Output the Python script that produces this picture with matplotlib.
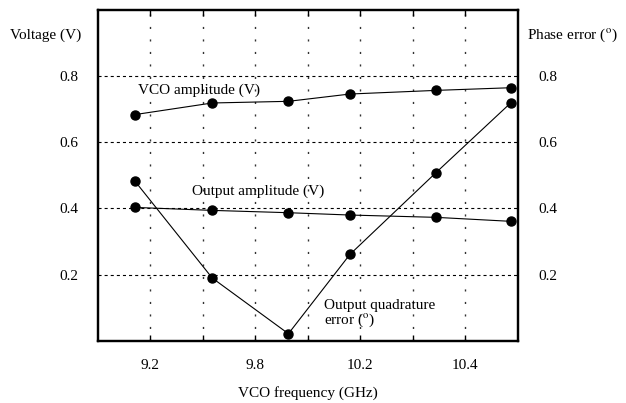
import matplotlib
matplotlib.use("Agg")
import matplotlib.pyplot as plt

plt.rcParams['font.family'] = ['Liberation Serif', 'DejaVu Serif']
plt.rcParams['mathtext.fontset'] = 'stix'
plt.rcParams['lines.scale_dashes'] = False

# x positions are in "grid step" units; labelled ticks are every second step
x_grid = [0, 1, 2, 3, 4, 5, 6]
x_labels = ["9.2", "", "9.8", "", "10.2", "", "10.4"]
x_pts = [-0.29, 1.18, 2.63, 3.80, 5.44, 6.86]

vco_amp = [0.683, 0.718, 0.723, 0.745, 0.756, 0.764]
out_amp = [0.403, 0.394, 0.387, 0.380, 0.373, 0.361]
quad_err = [0.482, 0.190, 0.022, 0.261, 0.508, 0.718]

y_ticks = [0.2, 0.4, 0.6, 0.8]
y_labels = ["0.2", "0.4", "0.6", "0.8"]

fs = 11

fig = plt.figure(figsize=(6.26, 4.03), dpi=100)
ax = fig.add_axes([97.7/626, 1 - 341/403, (518 - 97.7)/626, (341 - 9.5)/403])
ax.set_xlim(-1, 7)
ax.set_ylim(0, 1.0)

for xv in x_grid:
    ax.axvline(xv, color='#333333', lw=1.0, dashes=(1.5, 7.5), zorder=1)
for yv in y_ticks:
    ax.axhline(yv, color='black', lw=0.8, dashes=(2.2, 2.2), zorder=1)

kw = dict(color='black', lw=0.8, marker='o', markersize=6.5, zorder=3, clip_on=False)
ax.plot(x_pts, vco_amp, **kw)
ax.plot(x_pts, out_amp, **kw)
ax.plot(x_pts, quad_err, **kw)

ax.set_xticks(x_grid)
ax.set_xticklabels(x_labels, fontsize=fs)
ax.set_yticks(y_ticks)
ax.set_yticklabels(y_labels, fontsize=fs)
ax.tick_params(axis='x', direction='in', length=4, width=1, pad=13, top=True)
ax.tick_params(axis='y', direction='in', length=0, pad=14)
for s in ax.spines.values():
    s.set_linewidth(1.6)

ax2 = ax.twinx()
ax2.set_ylim(0, 1.0)
ax2.set_yticks(y_ticks)
ax2.set_yticklabels(y_labels, fontsize=fs)
ax2.tick_params(axis='y', direction='in', length=0, pad=15)
for s in ax2.spines.values():
    s.set_linewidth(1.6)

ax.set_xlabel("VCO frequency (GHz)", fontsize=fs, labelpad=10)

fig.text(10/626, 1 - 35/403, "Voltage (V)", fontsize=fs, va='center', ha='left')
fig.text(527/626, 1 - 35/403, r"Phase error ($^{\rm o}$)", fontsize=fs, va='center', ha='left')

ax.text(-0.23, 0.755, "VCO amplitude (V)", fontsize=fs, va='center', ha='left')
ax.text(0.79, 0.452, "Output amplitude (V)", fontsize=fs, va='center', ha='left')
ax.text(3.31, 0.081, "Output quadrature\nerror ($^{\\rm o}$)", fontsize=fs,
        va='center', ha='left', linespacing=1.0)

fig.savefig("out.png", dpi=100)
